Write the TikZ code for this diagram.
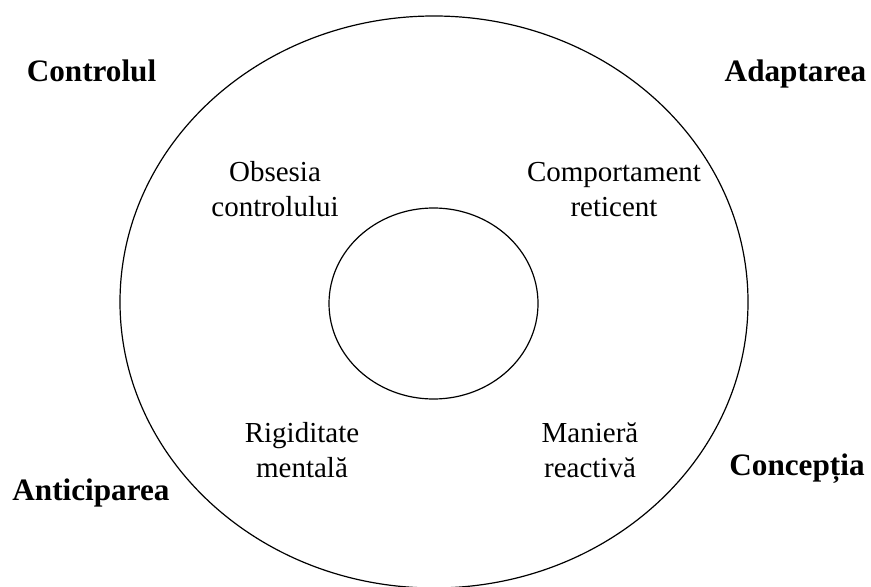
\documentclass[tikz,border=0pt]{standalone}
\usepackage{fontspec}
\setmainfont{Liberation Serif}

\begin{document}
\begin{tikzpicture}[x=0.5pt,y=-0.5pt]
                        \tikzstyle{ring}=[draw,line width=0.6pt]
                        \tikzstyle{corner}=[font=\fontsize{15.6}{18}\selectfont\bfseries,anchor=base,inner sep=0pt]
                        \tikzstyle{trait}=[font=\fontsize{14.5}{17.5}\selectfont,align=center,inner sep=0pt]
                        \useasboundingbox (0,0) rectangle (871,587);
                        \path[ring] (434,302) ellipse [x radius=314,y radius=286];
                        \path[ring] (433.5,303.5) ellipse [x radius=104.5,y radius=95.5];
                        \node[corner] (ctrl) at (91.5,82) {Controlul};
                        \node[corner] (adapt) at (795.5,82) {Adaptarea};
                        \node[corner] (antic) at (91,500) {Anticiparea};
                        \node[corner] (conc) at (797,475) {Concepția};
                        \node[trait] (obs) at (275,189) {Obsesia\\controlului};
                        \node[trait] (comp) at (614,190) {Comportament\\reticent};
                        \node[trait] (rigid) at (302,450) {Rigiditate\\mentală};
                        \node[trait] (man) at (590,450) {Manieră\\reactivă};
                    \end{tikzpicture}
\end{document}
